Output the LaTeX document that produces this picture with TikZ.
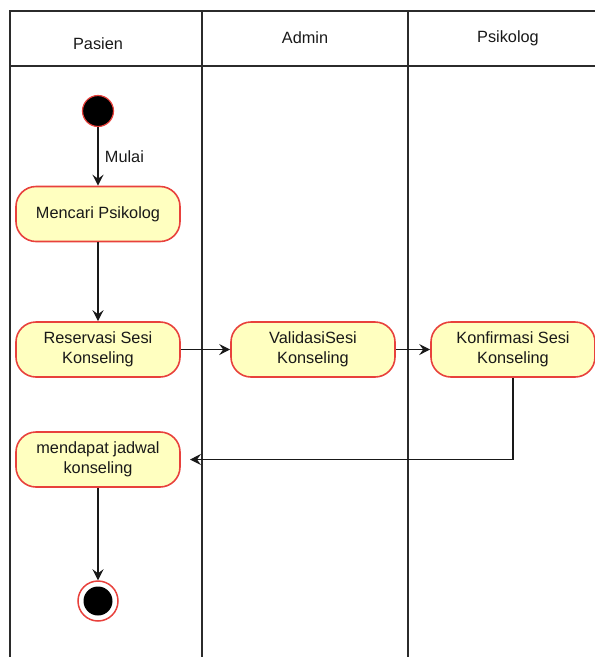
\documentclass[tikz,border=0pt]{standalone}
\usepackage{fontspec}
\setmainfont{Liberation Sans}
\usetikzlibrary{arrows.meta}
\definecolor{actfill}{HTML}{FFFFC0}
\definecolor{actline}{HTML}{E8413C}
\definecolor{laneline}{HTML}{2B2B2B}
\tikzset{
  lane/.style={draw=laneline, line width=1.5pt},
  activity/.style={draw=actline, fill=actfill, line width=1.6pt, rounded corners=20pt,
    minimum width=164pt, minimum height=55pt, align=center, inner sep=0pt,
    font=\fontsize{16.3}{20}\selectfont, text=black!90},
  lanetitle/.style={font=\fontsize{16.3}{20}\selectfont, text=black!90},
  flow/.style={draw=black!90, line width=1.3pt, -{Stealth[length=11pt,width=11pt,inset=4pt]}},
  initial/.style={circle, fill=black, draw=actline, line width=1.2pt, minimum size=31pt, inner sep=0pt},
  finalring/.style={circle, draw=actline, fill=white, line width=1.5pt, minimum size=40pt, inner sep=0pt},
}
\begin{document}
\begin{tikzpicture}[x=1pt, y=-1pt]
  \useasboundingbox (0,0) rectangle (595,657);
  % swimlane frame
  \draw[lane] (10,657) -- (10,11) -- (596,11);
  \draw[lane] (10,66) -- (596,66);
  \draw[lane] (202,11) -- (202,657);
  \draw[lane] (408,11) -- (408,657);
  \node[lanetitle] (hpasien) at (98,44) {Pasien};
  \node[lanetitle] (hadmin) at (305,38) {Admin};
  \node[lanetitle] (hpsikolog) at (508,38) {Psikolog};

  % nodes
  \node[initial] (start) at (98,111) {};
  \node[activity] (cari) at (98,214) {Mencari Psikolog};
  \node[activity] (reservasi) at (98,349.5) {Reservasi Sesi\\Konseling};
  \node[activity] (validasi) at (313,349.5) {ValidasiSesi\\Konseling};
  \node[activity] (konfirmasi) at (513,349.5) {Konfirmasi Sesi\\Konseling};
  \node[activity] (jadwal) at (98,459.5) {mendapat jadwal\\konseling};
  \node[finalring] (end) at (98,601) {};
  \node[circle, fill=black, minimum size=29pt, inner sep=0pt] (endcore) at (end) {};
  \coordinate (backtip) at (190,459.5);

  % connectors
  \draw[flow] (start) -- node[right=3pt, lanetitle] (mulai) {Mulai} (cari);
  \draw[flow] (cari) -- (reservasi);
  \draw[flow] (reservasi) -- (validasi);
  \draw[flow] (validasi) -- (konfirmasi);
  \draw[flow] (konfirmasi.south) |- (backtip);
  \draw[flow] (jadwal) -- (end);
\end{tikzpicture}
\end{document}
